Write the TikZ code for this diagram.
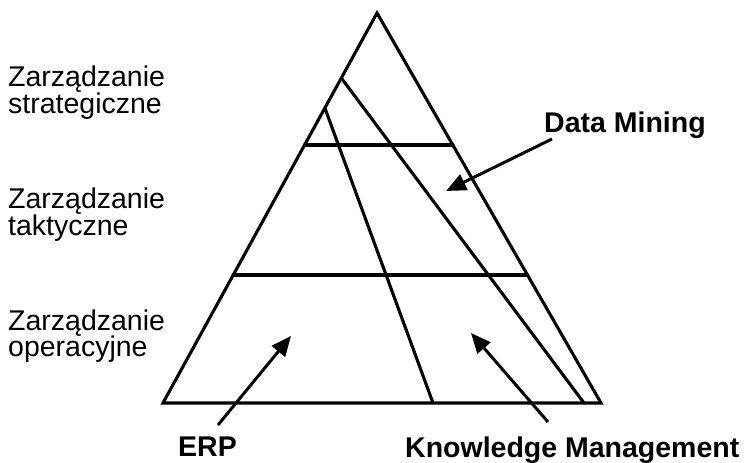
\documentclass[tikz,border=0pt]{standalone}
\usepackage{fontspec}
\setmainfont{Liberation Sans}
\usetikzlibrary{arrows.meta,calc}
\begin{document}
\begin{tikzpicture}[x=1pt,y=-1pt,
  edge/.style={line width=3.1pt,line join=miter,line cap=round},
  pointer/.style={line width=3pt,-{Triangle[length=20pt,width=17pt]}},
  level/.style={anchor=base west,inner sep=0pt,font=\fontsize{28.5}{28}\selectfont},
  tag/.style={anchor=base west,inner sep=0pt,font=\fontsize{28.5}{28}\selectfont\bfseries}]
\useasboundingbox (0,0) rectangle (745,463);
% triangle corners
\coordinate (T) at (377,13);
\coordinate (L) at (163,403);
\coordinate (R) at (601,403);
% level boundaries
\coordinate (h1l) at ($(T)!0.3385!(L)$);
\coordinate (h1r) at ($(T)!0.3385!(R)$);
\coordinate (h2l) at ($(T)!0.6718!(L)$);
\coordinate (h2r) at ($(T)!0.6718!(R)$);
% oblique lines
\coordinate (a1) at ($(T)!0.1667!(L)$);
\coordinate (a2) at (584,403);
\coordinate (b1) at ($(T)!0.2436!(L)$);
\coordinate (b2) at (433,403);
\draw[edge] (T) -- (L) -- (R) -- cycle;
\draw[edge] (h1l) -- (h1r);
\draw[edge] (h2l) -- (h2r);
\draw[edge] (a1) -- (a2);
\draw[edge] (b1) -- (b2);
% left labels
\node[level] (s1) at (8,86) {Zarządzanie};
\node[level] (s2) at (8,113) {strategiczne};
\node[level] (t1) at (8,208) {Zarządzanie};
\node[level] (t2) at (8,235) {taktyczne};
\node[level] (o1) at (8,330) {Zarządzanie};
\node[level] (o2) at (8,356) {operacyjne};
% tags
\node[tag] (dm) at (544,132) {Data Mining};
\node[tag] (erp) at (178,456) {ERP};
\node[tag] (km) at (405,457) {Knowledge Management};
% arrows
\coordinate (dmS) at (552,139);
\coordinate (dmE) at (446,191);
\coordinate (erpS) at (218,425);
\coordinate (erpE) at (291,336);
\coordinate (kmS) at (548,422);
\coordinate (kmE) at (471,333);
\draw[pointer] (dmS) -- (dmE);
\draw[pointer] (erpS) -- (erpE);
\draw[pointer] (kmS) -- (kmE);
\end{tikzpicture}
\end{document}
